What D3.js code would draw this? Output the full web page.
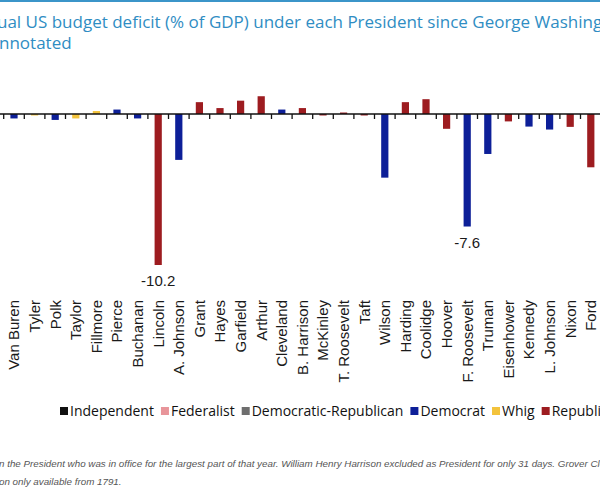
<!DOCTYPE html>
<html><head><meta charset="utf-8">
<script src="https://cdn.jsdelivr.net/npm/d3@7"></script>
<style>html,body{margin:0;padding:0;background:#fff;overflow:hidden}</style>
</head><body>
<svg id="chart" width="600" height="503"></svg>
<script>
const presidents = ["Van Buren","Tyler","Polk","Taylor","Fillmore","Pierce","Buchanan","Lincoln","A. Johnson","Grant","Hayes","Garfield","Arthur","Cleveland","B. Harrison","McKinley","T. Roosevelt","Taft","Wilson","Harding","Coolidge","Hoover","F. Roosevelt","Truman","Eisenhower","Kennedy","L. Johnson","Nixon","Ford"];
const balance = [-0.3,-0.1,-0.4,-0.3,0.2,0.3,-0.3,-10.2,-3.1,0.8,0.4,0.9,1.2,0.3,0.4,-0.1,0.1,-0.1,-4.3,0.8,1.0,-1.0,-7.6,-2.7,-0.5,-0.85,-1.05,-0.87,-3.6];
const party = ["Democrat","Whig","Democrat","Whig","Whig","Democrat","Democrat","Republican","Democrat","Republican","Republican","Republican","Republican","Democrat","Republican","Republican","Republican","Republican","Democrat","Republican","Republican","Republican","Democrat","Democrat","Republican","Democrat","Democrat","Republican","Republican"];
const annotated = ["Lincoln","F. Roosevelt"];
const partyNames = ["Independent","Federalist","Democratic-Republican","Democrat","Whig","Republican"];
const partyColors = ["#111111","#e8959a","#6e6e6e","#0d1f98","#f3c33c","#9d1c20"];
const titleLines = ["Annual US budget deficit (% of GDP) under each President since George Washington","Largest deficits annotated"];
const titleHidden = ["Ann","Largest deficits a"];
const notes = ["Note: Each year's deficit is assigned based on the President who was in office for the largest part of that year. William Henry Harrison excluded as President for only 31 days. Grover Cleveland's two terms combined.","Source: Data on budget position only available from 1791."];
const notesHidden = ["Note: Each year's deficit is assigned based o","Source: Data on budget positi"];

const svg = d3.select("#chart");
const step = 20.6;
const x = d3.scaleBand().domain(presidents).range([14 - step/2, 14 - step/2 + step*presidents.length]).paddingInner(0.65).paddingOuter(0.325);
const y = d3.scaleLinear().domain([0, -10.2]).range([114, 265]);
const color = d3.scaleOrdinal().domain(partyNames).range(partyColors);

// top rule
svg.append("rect").attr("x",0).attr("y",0).attr("width",600).attr("height",2).attr("fill","#3b95c9");

// title
titleLines.forEach((t,i)=>{
  const el = svg.append("text").attr("y", 28 + i*21)
    .attr("font-family","'Open Sans', sans-serif").attr("font-size",17).attr("fill","#2f8dc3").text(t);
  const w = el.node().getSubStringLength(0, titleHidden[i].length);
  el.attr("x", -w - (i===0?3:1));
});

// bars
const data = presidents.map((p,i)=>({p, v: balance[i], party: party[i]}));
svg.append("g").selectAll("rect").data(data).join("rect")
  .attr("x", d=>x(d.p)).attr("width", x.bandwidth())
  .attr("y", d=>y(Math.max(0,d.v))).attr("height", d=>Math.abs(y(d.v)-y(0)))
  .attr("fill", d=>color(d.party));

// axis
const ax = svg.append("g").attr("transform",`translate(0,${y(0)})`);
ax.append("line").attr("x1",0).attr("x2",600).attr("stroke","#111").attr("stroke-width",1.5);
const bounds = presidents.map(p => x(p) - x.step()*x.paddingInner()/2);
ax.selectAll("line.tick").data(bounds).join("line").attr("class","tick")
  .attr("x1",d=>d).attr("x2",d=>d).attr("y1",0).attr("y2",5).attr("stroke","#111").attr("stroke-width",1.3);

// category labels
svg.append("g").selectAll("text").data(presidents).join("text")
  .attr("transform", d=>`translate(${x(d)+x.bandwidth()/2},300) rotate(-90)`)
  .attr("text-anchor","end").attr("dy","0.36em")
  .attr("font-family","'Liberation Sans', Arial, sans-serif").attr("font-size",15).attr("fill","#1a1a1a")
  .text(d=>d);

// annotations
svg.append("g").selectAll("text").data(data.filter(d=>annotated.includes(d.p))).join("text")
  .attr("x", d=>x(d.p)+x.bandwidth()/2).attr("y", d=>y(d.v)+21)
  .attr("text-anchor","middle").attr("font-family","'Liberation Sans', Arial, sans-serif").attr("font-size",15).attr("fill","#1a1a1a")
  .text(d=>d.v.toFixed(1));

// legend
let lx = 60;
const lg = svg.append("g").attr("transform","translate(0,411)");
partyNames.forEach((n,i)=>{
  lg.append("rect").attr("x",lx).attr("y",-4).attr("width",8).attr("height",8).attr("fill",partyColors[i]);
  const t = lg.append("text").attr("x",lx+10).attr("dy","0.35em")
    .attr("font-family","'Open Sans', sans-serif").attr("font-size",14).attr("font-weight",500).attr("fill","#111").text(n);
  lx += 10 + t.node().getComputedTextLength() + 7;
});

// notes
notes.forEach((t,i)=>{
  const el = svg.append("text").attr("y", 467 + i*18)
    .attr("font-family","'Liberation Sans', Arial, sans-serif").attr("font-style","italic").attr("font-size",9.8).attr("fill","#555").text(t);
  const w = el.node().getSubStringLength(0, notesHidden[i].length);
  el.attr("x", -w - 1);
});
</script>
</body></html>
